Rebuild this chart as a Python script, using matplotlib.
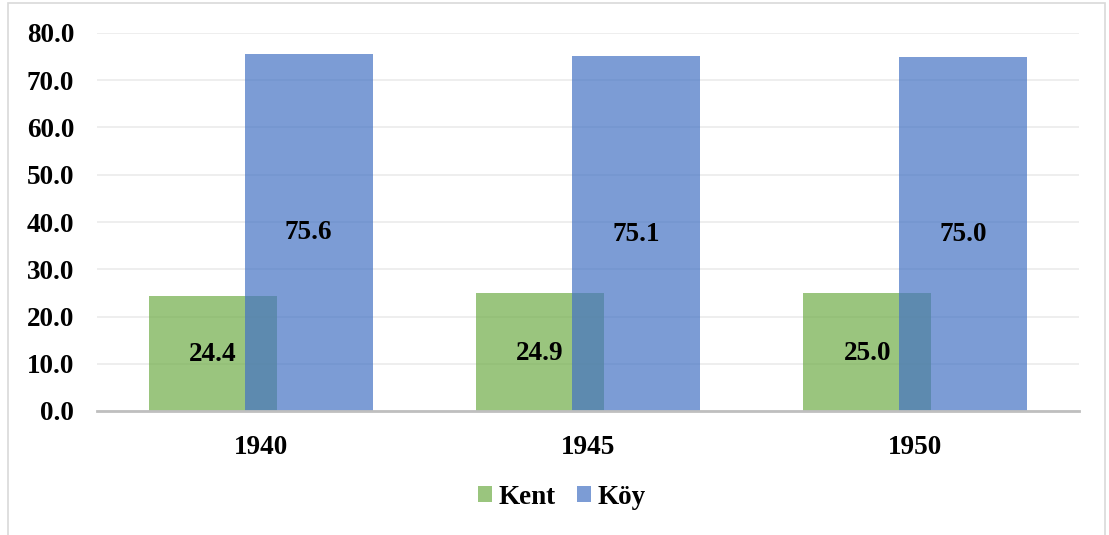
import matplotlib
matplotlib.use("Agg")
import matplotlib.pyplot as plt
import numpy as np
from matplotlib.patches import Rectangle

years = ["1940", "1945", "1950"]
kent = [24.4, 24.9, 25.0]
koy = [75.6, 75.1, 75.0]
yticks = [0, 10, 20, 30, 40, 50, 60, 70, 80]

plt.rcParams['font.family'] = ['Liberation Serif', 'DejaVu Serif']
plt.rcParams['font.weight'] = 'bold'
FS = 19.5

fig = plt.figure(figsize=(11.09, 5.35), dpi=100)
ax = fig.add_axes([97/1109, 1-411/535, (1079-97)/1109, (411-33)/535])

x = np.arange(len(years))
w = 0.391
off = 0.1467
green = '#70AD47'
blue = '#4472C4'
b1 = ax.bar(x - off, kent, w, color=green, alpha=0.7, label='Kent', zorder=2)
b2 = ax.bar(x + off, koy, w, color=blue, alpha=0.7, label='Köy', zorder=3)

for xi, v in zip(x, kent):
    ax.text(xi - off, v / 2 - 0.3, f"{v:.1f}", ha='center', va='center', fontsize=FS, fontweight='bold', zorder=5)
for xi, v in zip(x, koy):
    ax.text(xi + off, v / 2 - 0.1, f"{v:.1f}", ha='center', va='center', fontsize=FS, fontweight='bold', zorder=5)

ax.set_xlim(-0.5, len(years) - 0.5)
ax.set_ylim(0, 80)
ax.set_yticks(yticks)
ax.set_yticklabels([f"{t:.1f}" for t in yticks], fontsize=FS, fontweight='bold')
ax.set_xticks(x)
ax.set_xticklabels(years, fontsize=FS, fontweight='bold')
ax.tick_params(axis='both', length=0)
ax.tick_params(axis='y', pad=16.5)
ax.tick_params(axis='x', pad=17)
ax.grid(axis='y', color='#EBEBEB', linewidth=1.2, zorder=0)
ax.set_axisbelow(True)
for s in ['top', 'right', 'left']:
    ax.spines[s].set_visible(False)
ax.spines['bottom'].set_color('#BFBFBF')
ax.spines['bottom'].set_linewidth(2)
ax.spines['bottom'].set_zorder(4)

fig.legend(handles=[b1, b2], labels=['Kent', 'Köy'], loc='center', bbox_to_anchor=(562/1109, 1-497/535),
           ncol=2, frameon=False, prop={'weight': 'bold', 'size': FS},
           handlelength=0.5, handleheight=0.5, handletextpad=0.25, columnspacing=0.8)

fig.patches.append(Rectangle((8/1109, -0.02), (1105-8)/1109, 1.02 - 3/535, transform=fig.transFigure,
                             fill=False, edgecolor='#D9D9D9', linewidth=1.2))

fig.savefig('out.png', dpi=100)
